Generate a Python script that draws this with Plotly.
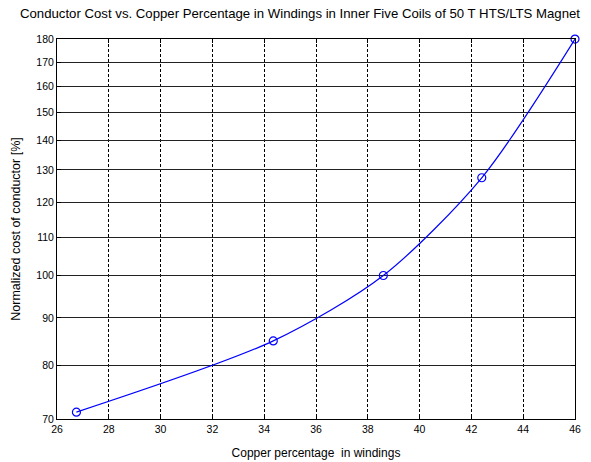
import plotly.graph_objects as go

copper_pct = [26.75, 34.35, 38.6, 42.4, 46.0]
norm_cost = [71.2, 85.0, 100.0, 127.5, 180.0]
x_ticks = [26, 28, 30, 32, 34, 36, 38, 40, 42, 44, 46]
y_ticks = [70, 80, 90, 100, 110, 120, 130, 140, 150, 160, 170, 180]

FONT = "Arial, Liberation Sans, sans-serif"

fig = go.Figure()
fig.add_trace(go.Scatter(
    x=copper_pct, y=norm_cost, mode="lines+markers",
    line=dict(color="#0000ff", width=1.2, shape="spline", smoothing=0.8),
    marker=dict(symbol="circle-open", size=8, color="#0000ff", line=dict(width=1.2)),
    cliponaxis=False, showlegend=False,
))

fig.update_layout(
    width=591, height=462,
    margin=dict(l=57, r=16, t=39, b=43, autoexpand=False),
    paper_bgcolor="white", plot_bgcolor="white",
    font=dict(family=FONT, size=10.5, color="black"),
    title=dict(
        text="Conductor Cost vs. Copper Percentage in Windings in Inner Five Coils of 50 T HTS/LTS Magnet",
        x=20/591, xref="container", xanchor="left",
        y=1-13/462, yref="container", yanchor="middle",
        font=dict(size=13.2, family=FONT, color="black"),
    ),
)
fig.update_xaxes(
    range=[26, 46], tickvals=x_ticks, ticktext=[str(v) for v in x_ticks],
    showline=True, linecolor="black", linewidth=1, mirror="ticks",
    ticks="inside", ticklen=4, tickcolor="black",
    showgrid=True, gridcolor="black", gridwidth=1, griddash="3px,2px",
    zeroline=False, automargin=False,
    title=dict(text="Copper percentage  in windings", font=dict(size=12, family=FONT), standoff=15),
    tickfont=dict(size=10.5),
)
fig.update_yaxes(
    type="log", range=[1.8451, 2.2553], tickvals=y_ticks, ticktext=[str(v) for v in y_ticks],
    showline=True, linecolor="black", linewidth=1, mirror="ticks",
    ticks="inside", ticklen=4, tickcolor="black",
    showgrid=True, gridcolor="#222222", gridwidth=1,
    zeroline=False, automargin=False,
    title=dict(text="Normalized cost of conductor [%]", font=dict(size=12.5, family=FONT), standoff=12),
    tickfont=dict(size=10.5),
)

fig.write_html("out.html")
